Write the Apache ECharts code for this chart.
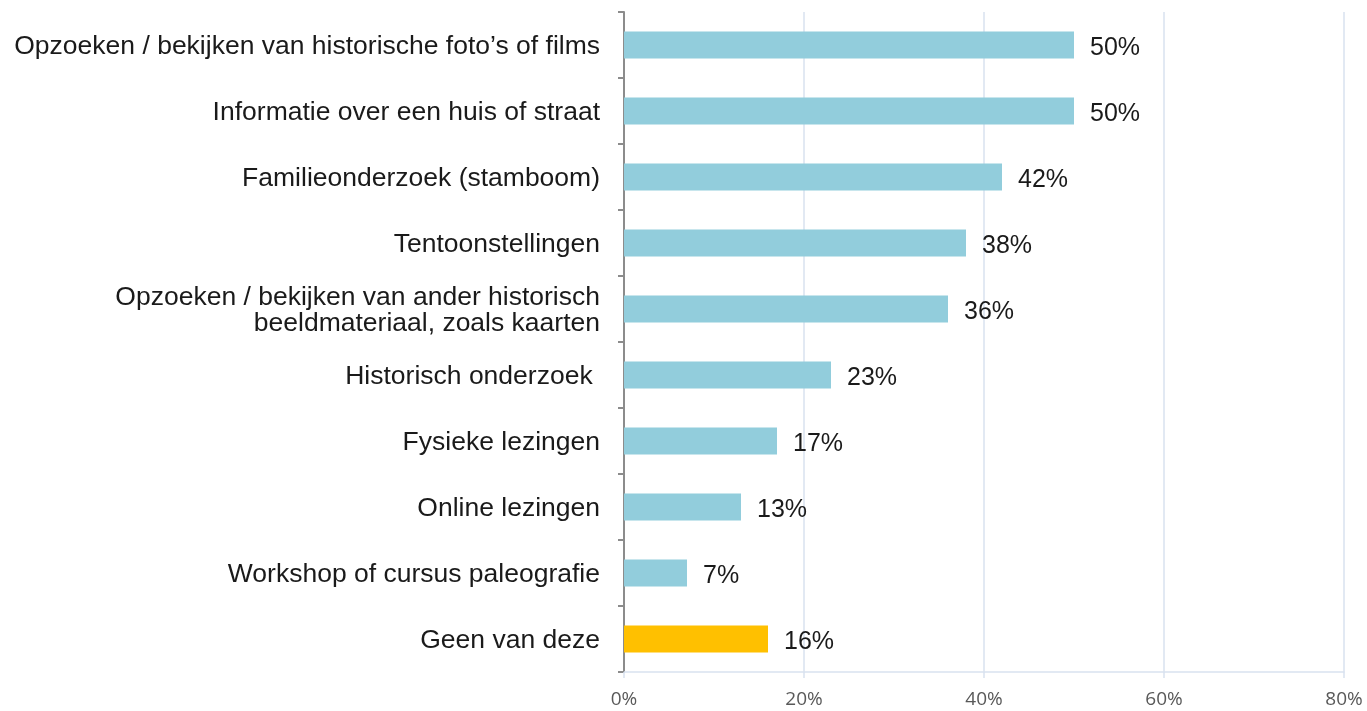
<!DOCTYPE html>
<html>
<head>
<meta charset="utf-8">
<script src="https://cdn.jsdelivr.net/npm/echarts@6/dist/echarts.min.js"></script>
<style>
  html, body { margin: 0; padding: 0; background: #fff; }
  #chart { width: 1367px; height: 711px; }
</style>
</head>
<body>
<div id="chart"></div>
<script>
const categories = [
  'Opzoeken / bekijken van historische foto\u2019s of films',
  'Informatie over een huis of straat',
  'Familieonderzoek (stamboom)',
  'Tentoonstellingen',
  'Opzoeken / bekijken van ander historisch\nbeeldmateriaal, zoals kaarten',
  'Historisch onderzoek ',
  'Fysieke lezingen',
  'Online lezingen',
  'Workshop of cursus paleografie',
  'Geen van deze'
]
const values = [50, 50, 42, 38, 36, 23, 17, 13, 7, 16]
const barColors = ['#92CDDC', '#92CDDC', '#92CDDC', '#92CDDC', '#92CDDC', '#92CDDC', '#92CDDC', '#92CDDC', '#92CDDC', '#FFC000']
const xTicks = [0, 20, 40, 60, 80]

const mainFont = "'Liberation Sans', Arial, sans-serif"
const tickFont = "'Open Sans', sans-serif"

let chart = echarts.init(document.getElementById('chart'))
let option = {
  animation: false,
  grid: { left: 624, right: 23, top: 12, bottom: 39 },
  xAxis: {
    type: 'value',
    min: xTicks[0],
    max: xTicks[xTicks.length - 1],
    interval: 20,
    axisLine: { show: true, lineStyle: { color: '#D9E2EF', width: 1.5 } },
    axisTick: { show: true, length: 6, lineStyle: { color: '#D9E2EF', width: 1.5 } },
    splitLine: { show: true, lineStyle: { color: '#D9E2EF', width: 1.5 } },
    axisLabel: { formatter: '{value}%', fontSize: 19, color: '#595959', margin: 18, fontFamily: tickFont }
  },
  yAxis: {
    type: 'category',
    inverse: true,
    data: categories,
    axisLine: { show: true, lineStyle: { color: '#8C8C8C', width: 2 } },
    axisTick: { show: true, length: 6, lineStyle: { color: '#8C8C8C', width: 2 } },
    axisLabel: {
      margin: 24,
      align: 'right',
      formatter: (v) => '{a|' + v + '}',
      rich: {
        a: { fontSize: 26.5, color: '#1A1A1A', lineHeight: 26, padding: [4, 0, 0, 0], align: 'right', fontFamily: mainFont }
      }
    }
  },
  series: [
    {
      type: 'bar',
      barWidth: 27,
      data: values.map((v, i) => ({ value: v, itemStyle: { color: barColors[i] } })),
      label: {
        show: true,
        position: 'right',
        distance: 16,
        offset: [0, 3],
        formatter: '{c}%',
        fontSize: 25,
        color: '#1A1A1A',
        fontFamily: mainFont
      }
    }
  ]
}
chart.setOption(option)
</script>
</body>
</html>
